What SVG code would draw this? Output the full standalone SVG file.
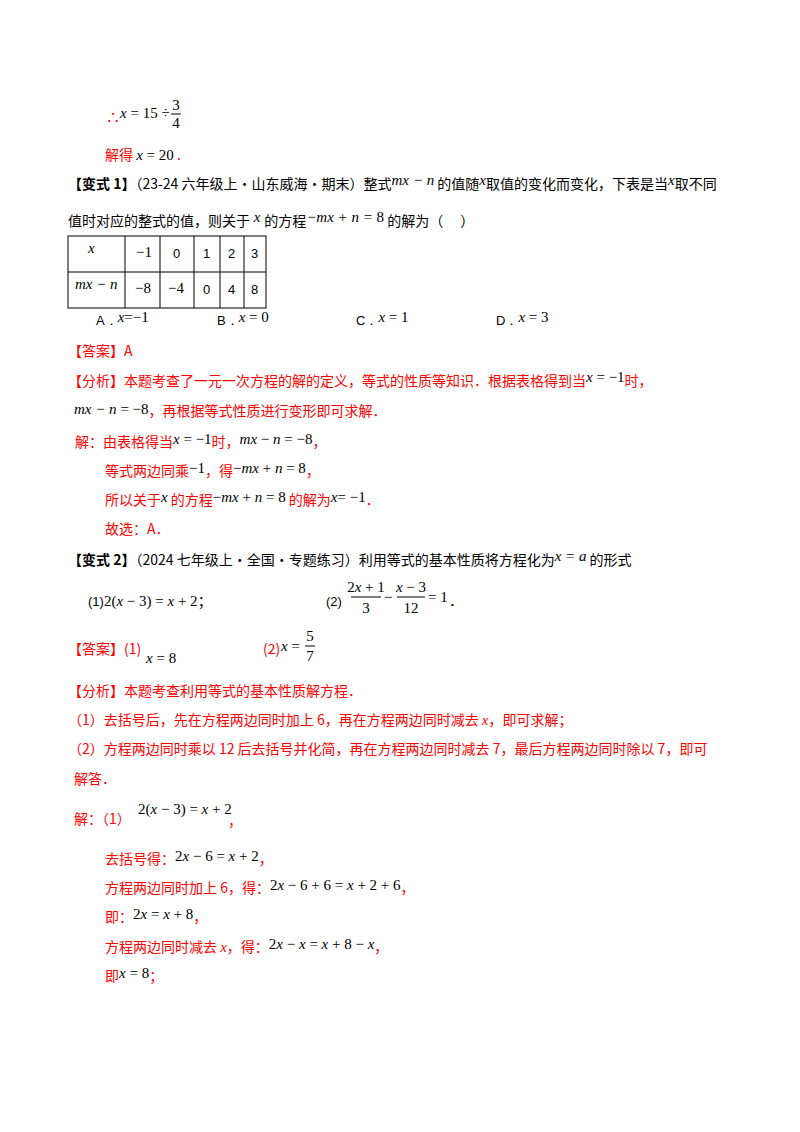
<svg xmlns="http://www.w3.org/2000/svg" width="800" height="1132" viewBox="0 0 800 1132">
<style>
text{font-family:"Noto Sans CJK SC","Liberation Sans",sans-serif;font-size:14px;fill:#000}
.r{fill:#f00}
.b{font-weight:bold}
.m{font-family:"Liberation Serif",serif;font-size:15px;fill:#000}
.i{font-style:italic}
.t{font-family:"Liberation Sans",sans-serif;font-size:13px}
line{stroke:#000;stroke-width:1}
</style>
<rect width="800" height="1132" fill="#fff"/>
<g id="top">
<text x="106" y="122" class="r">∴</text>
<text x="120" y="118" class="m"><tspan class="i">x</tspan> = 15 ÷</text>
<text x="176" y="110" class="m" font-size="13" text-anchor="middle">3</text>
<line x1="171" y1="114" x2="181" y2="114"/>
<text x="176" y="128" class="m" font-size="13" text-anchor="middle">4</text>
<text x="105" y="160" class="r">解得 <tspan class="m i" font-size="16">x</tspan><tspan class="m" font-size="16"> = 20</tspan> .</text>
</g>
<g id="q1">
<text x="68" y="189"><tspan class="b">【变式 1】</tspan>（23-24 六年级上·山东威海·期末）整式<tspan class="m i" font-size="13" dy="-4">mx − n</tspan><tspan dy="4"> 的值随</tspan><tspan class="m i" dy="-4">x</tspan><tspan dy="4">取值的变化而变化，下表是当</tspan><tspan class="m i" dy="-4">x</tspan><tspan dy="4">取不同</tspan></text>
<text x="68" y="226">值时对应的整式的值，则关于<tspan class="m i" dy="-4" font-size="13"> x </tspan><tspan dy="4">的方程</tspan><tspan class="m i" font-size="13" dy="-4">−mx + n = </tspan><tspan class="m">8</tspan><tspan dy="4"> 的解为（　 ）</tspan></text>
</g>
<g id="table">
<rect x="68" y="236" width="198" height="72" fill="none" stroke="#000"/>
<line x1="68" y1="272" x2="266" y2="272"/>
<line x1="125" y1="236" x2="125" y2="308"/>
<line x1="160" y1="236" x2="160" y2="308"/>
<line x1="194" y1="236" x2="194" y2="308"/>
<line x1="220" y1="236" x2="220" y2="308"/>
<line x1="244" y1="236" x2="244" y2="308"/>
<text x="88" y="253" class="m i" font-size="13">x</text>
<text x="136" y="257" class="m" font-size="13">−1</text>
<text x="173" y="258" class="t">0</text>
<text x="203" y="258" class="t">1</text>
<text x="228" y="258" class="t">2</text>
<text x="251" y="258" class="t">3</text>
<text x="75" y="289" class="m i" font-size="13">mx − n</text>
<text x="135" y="293" class="m" font-size="13">−8</text>
<text x="168" y="293" class="m" font-size="13">−4</text>
<text x="203" y="294" class="t">0</text>
<text x="228" y="294" class="t">4</text>
<text x="251" y="294" class="t">8</text>
</g>
<g id="options">
<text x="96" y="325" class="t">A．<tspan class="m i" dy="-3">x</tspan><tspan class="m">=−1</tspan></text>
<text x="217" y="325" class="t">B．<tspan class="m i" dy="-3">x</tspan><tspan class="m"> = 0</tspan></text>
<text x="356" y="325" class="t">C．<tspan class="m i" dy="-3">x</tspan><tspan class="m"> = 1</tspan></text>
<text x="496" y="325" class="t">D．<tspan class="m i" dy="-3">x</tspan><tspan class="m"> = 3</tspan></text>
</g>
<g id="ans1">
<text x="68" y="356" class="r">【答案】A</text>
<text x="68" y="386" class="r">【分析】本题考查了一元一次方程的解的定义，等式的性质等知识．根据表格得到当<tspan class="m i" font-size="13" dy="-4">x</tspan><tspan class="m" font-size="13"> = −1</tspan><tspan dy="4">时，</tspan></text>
<text x="74" y="414" class="m i" font-size="13">mx − n<tspan style="font-style:normal"> = −8</tspan><tspan class="r" style="font-style:normal;font-family:'Noto Sans CJK SC',sans-serif;font-size:14px" dy="2">，再根据等式性质进行变形即可求解．</tspan></text>
<text x="75" y="447" class="r">解：由表格得当<tspan class="m i" dy="-3">x</tspan><tspan class="m"> = −1</tspan><tspan dy="3">时，</tspan><tspan class="m i" dy="-3">mx</tspan><tspan class="m"> − </tspan><tspan class="m i">n</tspan><tspan class="m"> = −8</tspan><tspan dy="3">，</tspan></text>
<text x="105" y="476" class="r">等式两边同乘<tspan class="m" dy="-3">−1</tspan><tspan dy="3">，得</tspan><tspan class="m" dy="-3">−</tspan><tspan class="m i">mx</tspan><tspan class="m"> + </tspan><tspan class="m i">n</tspan><tspan class="m"> = 8</tspan><tspan dy="3">，</tspan></text>
<text x="105" y="505" class="r">所以关于<tspan class="m i" dy="-3">x</tspan><tspan dy="3"> 的方程</tspan><tspan class="m" dy="-3">−</tspan><tspan class="m i">mx</tspan><tspan class="m"> + </tspan><tspan class="m i">n</tspan><tspan class="m"> = 8</tspan><tspan dy="3"> 的解为</tspan><tspan class="m i" dy="-3">x</tspan><tspan class="m">= −1</tspan><tspan dy="3">．</tspan></text>
<text x="105" y="534" class="r">故选：A．</text>
</g>
<g id="q2">
<text x="68" y="565"><tspan class="b">【变式 2】</tspan>（2024 七年级上·全国·专题练习）利用等式的基本性质将方程化为<tspan class="m i" font-size="13" dy="-4">x = a</tspan><tspan dy="4"> 的形式</tspan></text>
<text x="88" y="606" class="t">(1)<tspan class="m" font-size="15">2(</tspan><tspan class="m i" font-size="15">x</tspan><tspan class="m" font-size="15"> − 3) = </tspan><tspan class="m i" font-size="15">x</tspan><tspan class="m" font-size="15"> + 2</tspan><tspan style="font-family:'Noto Sans CJK SC',sans-serif;font-size:14px">；</tspan></text>
<text x="326" y="606" class="t">(2)</text>
<text x="366" y="592" class="m" font-size="14" text-anchor="middle">2<tspan class="i">x</tspan> + 1</text>
<line x1="351" y1="597" x2="381" y2="597"/>
<text x="366" y="613" class="m" font-size="14" text-anchor="middle">3</text>
<text x="384" y="602" class="m">−</text>
<text x="411" y="592" class="m" font-size="14" text-anchor="middle"><tspan class="i">x</tspan> − 3</text>
<line x1="397" y1="597" x2="425" y2="597"/>
<text x="411" y="613" class="m" font-size="14" text-anchor="middle">12</text>
<text x="428" y="602" class="m">= 1</text>
<text x="449" y="606">．</text>
</g>
<g id="ans2">
<text x="68" y="654" class="r">【答案】(1)</text>
<text x="146" y="663" class="m"><tspan class="i">x</tspan> = 8</text>
<text x="263" y="654" class="r">(2)</text>
<text x="281" y="651" class="m"><tspan class="i">x</tspan> =</text>
<text x="310" y="641" class="m" font-size="13" text-anchor="middle">5</text>
<line x1="305" y1="646" x2="315" y2="646"/>
<text x="310" y="661" class="m" font-size="13" text-anchor="middle">7</text>
<text x="68" y="696" class="r">【分析】本题考查利用等式的基本性质解方程．</text>
<text x="68" y="725" class="r">（1）去括号后，先在方程两边同时加上 6，再在方程两边同时减去 <tspan class="m i" style="fill:#f00">x</tspan>，即可求解；</text>
<text x="68" y="754" class="r">（2）方程两边同时乘以 12 后去括号并化简，再在方程两边同时减去 7，最后方程两边同时除以 7，即可</text>
<text x="74" y="784" class="r">解答．</text>
<text x="74" y="824" class="r">解：（1）</text>
<text x="138" y="814" class="m" font-size="16">2(<tspan class="i">x</tspan> − 3) = <tspan class="i">x</tspan> + 2</text>
<text x="228" y="826" class="r">，</text>
<text x="105" y="864" class="r">去括号得：<tspan class="m" dy="-3">2</tspan><tspan class="m i">x</tspan><tspan class="m"> − 6 = </tspan><tspan class="m i">x</tspan><tspan class="m"> + 2</tspan><tspan dy="3">，</tspan></text>
<text x="105" y="893" class="r">方程两边同时加上 6，得：<tspan class="m" dy="-3">2</tspan><tspan class="m i">x</tspan><tspan class="m"> − 6 + 6 = </tspan><tspan class="m i">x</tspan><tspan class="m"> + 2 + 6</tspan><tspan dy="3">，</tspan></text>
<text x="105" y="922" class="r">即：<tspan class="m" dy="-3">2</tspan><tspan class="m i">x</tspan><tspan class="m"> = </tspan><tspan class="m i">x</tspan><tspan class="m"> + 8</tspan><tspan dy="3">，</tspan></text>
<text x="105" y="952" class="r">方程两边同时减去 <tspan class="m i" style="fill:#f00">x</tspan>，得：<tspan class="m" dy="-3">2</tspan><tspan class="m i">x</tspan><tspan class="m"> − </tspan><tspan class="m i">x</tspan><tspan class="m"> = </tspan><tspan class="m i">x</tspan><tspan class="m"> + 8 − </tspan><tspan class="m i">x</tspan><tspan dy="3">，</tspan></text>
<text x="105" y="981" class="r">即<tspan class="m i" dy="-3">x</tspan><tspan class="m"> = 8</tspan><tspan dy="3">；</tspan></text>
</g>
</svg>
